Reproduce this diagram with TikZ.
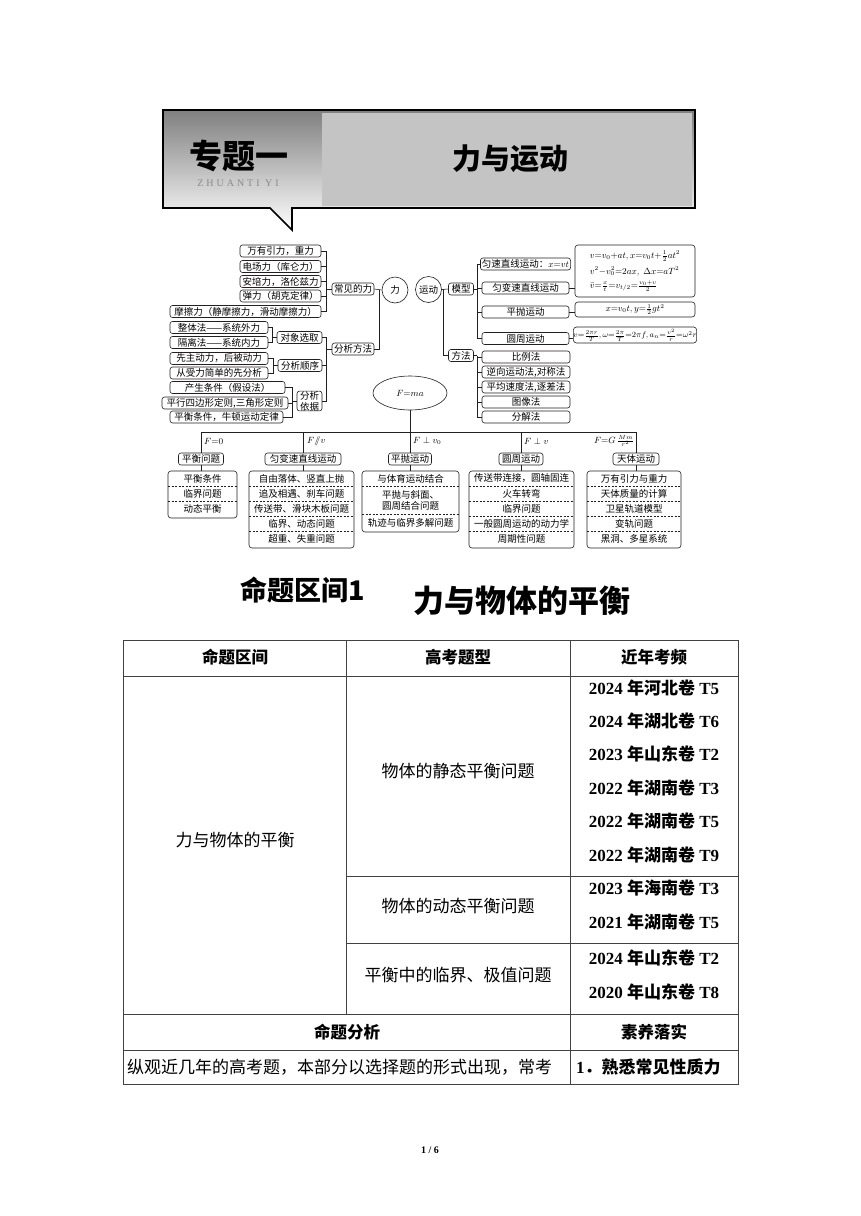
\documentclass[tikz,border=0pt]{standalone}
\usepackage{fontspec}
\usepackage{amsmath}
\setmainfont{Liberation Serif}
\newfontfamily\cjk{Noto Sans CJK SC}
\usetikzlibrary{shapes.geometric,positioning,backgrounds}
\definecolor{ink}{HTML}{231F20}
\definecolor{panel}{HTML}{C4C4C4}
\definecolor{shade}{HTML}{D4D4D4}
\definecolor{pin}{HTML}{8A8A8A}
\newcommand\mapfont{\cjk\fontsize{9.5}{11}\selectfont}
\newcommand\cellfont{\cjk\fontsize{17}{20}\selectfont}
\newcommand\yr[3]{#1 {\cjk\bfseries 年#2卷} #3}
\tikzset{
  every node/.style={inner sep=0pt},
  mbox/.style={draw=ink, rounded corners=2.5pt, line width=0.6pt, minimum height=12pt, inner xsep=1.5pt, font=\mapfont},
  lbox/.style={draw=ink, rounded corners=3pt, line width=0.6pt},
  item/.style={font=\mapfont, align=center},
  ring/.style={circle, draw=ink, line width=0.6pt, minimum size=26pt, font=\mapfont},
  fbox/.style={draw=ink, rounded corners=3pt, line width=0.6pt, minimum width=120pt, font=\fontsize{9}{10}\selectfont},
  flab/.style={font=\fontsize{9}{10}\selectfont, anchor=west},
  link/.style={line width=0.6pt, draw=ink},
  sep/.style={line width=0.5pt, draw=ink, dash pattern=on 2pt off 1.5pt},
  grid/.style={line width=0.8pt, draw=ink!85},
  head/.style={font=\cjk\bfseries\fontsize{16.5}{20}\selectfont},
  cell/.style={font=\cellfont},
  year/.style={font=\bfseries\fontsize{17}{20}\selectfont},
}
\begin{document}
\begin{tikzpicture}[x=1pt,y=-1pt]
\useasboundingbox (0,0) rectangle (860,1216);
\fill[white] (0,0) rectangle (860,1216);

% banner
\draw[shade, line width=1.6pt, fill=white] (163,110) -- (695,110) -- (695,208) -- (292,208) -- (292,230) -- (270,208) -- (163,208) -- cycle;
\fill[panel] (322,113) rectangle (692,206);
\node[font=\cjk\bfseries\fontsize{33}{36}\selectfont] (zt) at (239,156) {专题一};
\node[font=\fontsize{10}{11}\selectfont\addfontfeatures{LetterSpace=30}, text=pin] (py) at (238,183) {ZHUANTI YI};
\node[font=\cjk\bfseries\fontsize{29}{32}\selectfont] (zm) at (510,159) {力与运动};

% force side
\node[mbox, minimum width=81pt] (g1) at (280.5,251) {万有引力，重力};
\node[mbox, minimum width=81pt] (g2) at (280.5,266.5) {电场力（库仑力）};
\node[mbox, minimum width=81pt] (g3) at (280.5,281.5) {安培力，洛伦兹力};
\node[mbox, minimum width=81pt] (g4) at (280.5,296) {弹力（胡克定律）};
\node[mbox, minimum width=151pt] (g5) at (245.5,311.5) {摩擦力（静摩擦力，滑动摩擦力）};
\node[mbox, minimum width=42pt] (cj) at (353,289) {常见的力};
\coordinate (cjbar) at (326,289);
\foreach \i in {1,...,5} \draw[link] (g\i.east) -| (cjbar);
\draw[link] (cjbar) -- (cj.west);

\node[mbox, minimum width=98pt] (h1) at (219,327.5) {整体法——系统外力};
\node[mbox, minimum width=98pt] (h2) at (219,342.5) {隔离法——系统内力};
\node[mbox, minimum width=98pt] (h3) at (219,358.5) {先主动力，后被动力};
\node[mbox, minimum width=98pt] (h4) at (219,373) {从受力简单的先分析};
\node[mbox, minimum width=115pt] (h5) at (227.5,387.5) {产生条件（假设法）};
\node[mbox, minimum width=126pt] (h6) at (225,403) {平行四边形定则,三角形定则};
\node[mbox, minimum width=113pt] (h7) at (226.5,417) {平衡条件，牛顿运动定律};
\node[mbox, minimum width=45pt] (dx) at (299.5,337.5) {对象选取};
\node[mbox, minimum width=44pt] (sx) at (300,365.5) {分析顺序};
\node[mbox, minimum width=25pt, align=center] (yj) at (309.5,401) {分析\\依据};
\coordinate (dxbar) at (272,337.5);
\coordinate (sxbar) at (273,365.5);
\coordinate (yjbar) at (292,401);
\foreach \i in {1,2} \draw[link] (h\i.east) -| (dxbar);
\foreach \i in {3,4} \draw[link] (h\i.east) -| (sxbar);
\foreach \i in {5,6,7} \draw[link] (h\i.east) -| (yjbar);
\draw[link] (dxbar) -- (dx.west);
\draw[link] (sxbar) -- (sx.west);
\draw[link] (yjbar) -- (yj.west);

\node[mbox, minimum width=42pt] (fx) at (353,349) {分析方法};
\coordinate (fxbar) at (326,349);
\foreach \n in {dx,sx,yj} \draw[link] (\n.east) -| (fxbar);
\draw[link] (fxbar) -- (fx.west);

\node[ring] (li) at (395,290) {力};
\node[ring] (yd) at (428.5,289.5) {运动};
\node[ellipse, draw=ink, line width=0.6pt, fill=white, minimum width=74pt, minimum height=34pt, font=\fontsize{9}{10}\selectfont] (fma) at (410,393) {$F{=}ma$};
\coordinate (libar) at (379,290);
\draw[link] (cj.east) -- (li.west);
\draw[link] (fx.east) -| (libar);
\begin{scope}[on background layer]
\draw[link] (li.south) -- (li.south |- fma.center);
\draw[link] (yd.south) -- (yd.south |- fma.center);
\end{scope}

% motion side
\node[mbox, minimum width=25pt] (mx) at (461,289) {模型};
\node[mbox, minimum width=25pt] (ff) at (461,355.5) {方法};
\coordinate (ydbar) at (443,289);
\draw[link] (yd.east) -- (mx.west);
\draw[link] (ff.west) -| (ydbar);

\node[mbox, minimum width=87pt] (r1) at (525.5,264) {匀速直线运动：$x{=}vt$};
\node[mbox, minimum width=87pt] (r2) at (525.5,288) {匀变速直线运动};
\node[mbox, minimum width=87pt] (r3) at (525.5,312) {平抛运动};
\node[mbox, minimum width=87pt] (r4) at (525.5,338.5) {圆周运动};
\coordinate (mxbar) at (477,289);
\foreach \i in {1,...,4} \draw[link] (r\i.west) -| (mxbar);
\draw[link] (mx.east) -- (mxbar);

\node[mbox, minimum width=88pt] (m1) at (526,357) {比例法};
\node[mbox, minimum width=88pt] (m2) at (526,372) {逆向运动法,对称法};
\node[mbox, minimum width=88pt] (m3) at (526,387) {平均速度法,逐差法};
\node[mbox, minimum width=88pt] (m4) at (526,402) {图像法};
\node[mbox, minimum width=88pt] (m5) at (526,417) {分解法};
\coordinate (ffbar) at (477,355.5);
\foreach \i in {1,...,5} \draw[link] (m\i.west) -| (ffbar);
\draw[link] (ff.east) -- (ffbar);

\node[fbox, minimum height=52pt, align=left, inner xsep=3pt] (f1) at (635,271) {%
$v{=}v_0{+}at,x{=}v_0t{+}\frac{1}{2}at^2$\\[4pt]
$v^2{-}v_0^2{=}2ax,\ \Delta x{=}aT^2$\\[4pt]
$\bar v{=}\frac{x}{t}{=}v_{t/2}{=}\frac{v_0{+}v}{2}$};
\node[fbox, minimum height=15pt] (f2) at (635,309.5) {$x{=}v_0t,y{=}\frac{1}{2}gt^2$};
\node[fbox, minimum height=16pt, font=\fontsize{8.5}{10}\selectfont] (f3) at (635,335) {$v{=}\frac{2\pi r}{T},\omega{=}\frac{2\pi}{T}{=}2\pi f,a_n{=}\frac{v^2}{r}{=}\omega^2r$};
\draw[link] (r2.east) -- (r2.east -| f1.west);
\draw[link] (r3.east) -- (r3.east -| f2.west);
\draw[link] (r4.east) -- (r4.east -| f3.west);

% branches
\node[mbox, minimum width=45pt] (c1) at (201,459) {平衡问题};
\node[mbox, minimum width=76pt] (c2) at (303,459) {匀变速直线运动};
\node[mbox, minimum width=43pt] (c3) at (410,459) {平抛运动};
\node[mbox, minimum width=44pt] (c4) at (521,459) {圆周运动};
\node[mbox, minimum width=46pt] (c5) at (636,459) {天体运动};
\coordinate (hub) at (410,432);
\draw[link] (fma.south) -- (hub);
\draw[link] (c1.north |- hub) -- (c5.north |- hub);
\foreach \i in {1,...,5} \draw[link] (c\i.north |- hub) -- (c\i.north);
\node[flab] (q1) at (204,441) {$F{=}0$};
\node[flab] (q2) at (307,441) {$F/\!\!/v$};
\node[flab] (q3) at (413,441) {$F\perp v_0$};
\node[flab] (q4) at (524,441) {$F\perp v$};
\node[flab, anchor=east] (q5) at (634,441) {$F{=}G\,\frac{Mm}{r^2}$};

\node[lbox, minimum width=69pt, minimum height=47pt] (l1) at (202.5,494.5) {};
\foreach \t [count=\i] in {平衡条件,临界问题,动态平衡}
  \node[item] (l1-\i) at (202.5,463.5+15*\i) {\t};
\foreach \i in {1,2} \draw[sep] (168,471+15*\i) -- (237,471+15*\i);

\node[lbox, minimum width=105pt, minimum height=77pt] (l2) at (301.5,509.5) {};
\foreach \t [count=\i] in {自由落体、竖直上抛,追及相遇、刹车问题,传送带、滑块木板问题,临界、动态问题,超重、失重问题}
  \node[item] (l2-\i) at (301.5,463.5+15*\i) {\t};
\foreach \i in {1,...,4} \draw[sep] (249,471+15*\i) -- (354,471+15*\i);

\node[lbox, minimum width=97pt, minimum height=61pt] (l3) at (410.5,501.5) {};
\node[item] (l3-1) at (410.5,479) {与体育运动结合};
\node[item] (l3-2) at (410.5,500) {平抛与斜面、\\圆周结合问题};
\node[item] (l3-3) at (410.5,523) {轨迹与临界多解问题};
\draw[sep] (362,486.5) -- (459,486.5);
\draw[sep] (362,514) -- (459,514);

\node[lbox, minimum width=105pt, minimum height=77pt] (l4) at (521.5,509.5) {};
\foreach \t [count=\i] in {传送带连接，圆轴固连,火车转弯,临界问题,一般圆周运动的动力学,周期性问题}
  \node[item] (l4-\i) at (521.5,463.5+15*\i) {\t};
\foreach \i in {1,...,4} \draw[sep] (469,471+15*\i) -- (574,471+15*\i);

\node[lbox, minimum width=94pt, minimum height=77pt] (l5) at (634,509.5) {};
\foreach \t [count=\i] in {万有引力与重力,天体质量的计算,卫星轨道模型,变轨问题,黑洞、多星系统}
  \node[item] (l5-\i) at (634,463.5+15*\i) {\t};
\foreach \i in {1,...,4} \draw[sep] (587,471+15*\i) -- (681,471+15*\i);

\foreach \i in {1,...,5} \draw[link] (c\i.south) -- (c\i.south |- l\i.north);

% section title
\node[font=\cjk\bfseries\fontsize{27}{30}\selectfont] (st) at (303,590) {命题区间1};
\node[font=\cjk\bfseries\fontsize{31}{34}\selectfont] (sn) at (522,601) {力与物体的平衡};

% table
\draw[grid] (123,640) rectangle (738,1084);
\draw[grid] (123,676) -- (738,676);
\draw[grid] (346,876) -- (738,876);
\draw[grid] (346,943) -- (738,943);
\draw[grid] (123,1014) -- (738,1014);
\draw[grid] (123,1050) -- (738,1050);
\draw[grid] (346,640) -- (346,1014);
\draw[grid] (570,640) -- (570,1084);

\node[head] (th1) at (235,657) {命题区间};
\node[head] (th2) at (458,657) {高考题型};
\node[head] (th3) at (654,657) {近年考频};
\node[cell] (ta) at (235,840) {力与物体的平衡};
\node[cell] (tb1) at (458,771) {物体的静态平衡问题};
\node[cell] (tb2) at (458,906) {物体的动态平衡问题};
\node[cell] (tb3) at (458,975) {平衡中的临界、极值问题};
\foreach \a/\b/\c/\y in {2024/河北/T5/688,2024/湖北/T6/721,2023/山东/T2/754,2022/湖南/T3/788,2022/湖南/T5/821,2022/湖南/T9/855,2023/海南/T3/888,2021/湖南/T5/922,2024/山东/T2/958,2020/山东/T8/992}
  \node[year] at (654,\y) {\yr{\a}{\b}{\c}};
\node[head] (tc1) at (347,1032) {命题分析};
\node[head] (tc2) at (654,1032) {素养落实};
\node[cell, anchor=west] (td1) at (127,1067) {纵观近几年的高考题，本部分以选择题的形式出现，常考};
\node[year, anchor=west] (td2) at (576,1067) {1{\cjk\bfseries ．熟悉常见性质力}};

\node[font=\bfseries\fontsize{10}{12}\selectfont] (pg) at (430,1150) {1 / 6};
\end{tikzpicture}
\end{document}
